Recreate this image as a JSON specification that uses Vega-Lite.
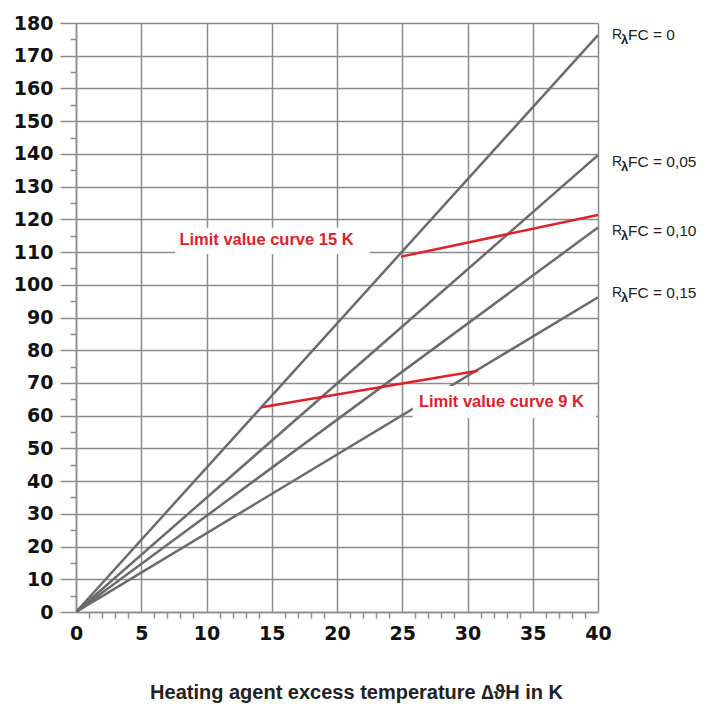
{
  "$schema": "https://vega.github.io/schema/vega-lite/v6.json",
  "autosize": "none",
  "width": 522,
  "height": 589,
  "padding": {"left": 76, "top": 23, "right": 111, "bottom": 97},
  "background": "white",
  "config": {"view": {"stroke": null}},
  "layer": [
    {
      "data": {"values": [
        {"x": 0, "y": 0, "s": "R0", "kind": "curve"},
        {"x": 40, "y": 176.3, "s": "R0", "kind": "curve"},
        {"x": 0, "y": 0, "s": "R005", "kind": "curve"},
        {"x": 40, "y": 139.6, "s": "R005", "kind": "curve"},
        {"x": 0, "y": 0, "s": "R010", "kind": "curve"},
        {"x": 40, "y": 117.5, "s": "R010", "kind": "curve"},
        {"x": 0, "y": 0, "s": "R015", "kind": "curve"},
        {"x": 40, "y": 96.2, "s": "R015", "kind": "curve"},
        {"x": 24.9, "y": 108.6, "s": "L15", "kind": "limit"},
        {"x": 40, "y": 121.3, "s": "L15", "kind": "limit"},
        {"x": 14.2, "y": 62.6, "s": "L9", "kind": "limit"},
        {"x": 30.8, "y": 73.7, "s": "L9", "kind": "limit"}
      ]},
      "mark": {"type": "line", "strokeWidth": 2.5, "clip": true},
      "encoding": {
        "x": {
          "field": "x", "type": "quantitative",
          "scale": {"domain": [0, 40], "nice": false},
          "axis": {
            "values": [0,1,2,3,4,5,6,7,8,9,10,11,12,13,14,15,16,17,18,19,20,21,22,23,24,25,26,27,28,29,30,31,32,33,34,35,36,37,38,39,40],
            "tickCount": 500,
            "format": "d",
            "labelOverlap": false,
            "labelExpr": "datum.value % 5 === 0 ? datum.label : ''",
            "grid": true,
            "gridColor": "#8c8c8c",
            "gridWidth": 1.5,
            "gridOpacity": {"condition": {"test": "datum.value % 5 === 0", "value": 1}, "value": 0},
            "tickSize": {"condition": {"test": "datum.value % 5 === 0", "value": 0}, "value": 6},
            "tickColor": "#8c8c8c",
            "tickWidth": 1.5,
            "domainColor": "#8c8c8c",
            "domainWidth": 1.5,
            "labelFont": "DejaVu Sans",
            "labelFontWeight": "bold",
            "labelFontSize": 19,
            "labelColor": "#111111",
            "labelPadding": 12,
            "labelFlush": false,
            "title": "Heating agent excess temperature ∆ϑH in K",
            "titleFont": "Liberation Sans",
            "titleFontWeight": "bold",
            "titleFontSize": 20,
            "titleColor": "#222222",
            "titleX": 280,
            "titleY": 80,
            "titleBaseline": "middle"
          }
        },
        "y": {
          "field": "y", "type": "quantitative",
          "scale": {"domain": [0, 180], "nice": false},
          "axis": {
            "values": [0,5,10,15,20,25,30,35,40,45,50,55,60,65,70,75,80,85,90,95,100,105,110,115,120,125,130,135,140,145,150,155,160,165,170,175,180],
            "tickCount": 500,
            "format": "d",
            "labelOverlap": false,
            "labelExpr": "datum.value % 10 === 0 ? datum.label : ''",
            "grid": true,
            "gridColor": "#8c8c8c",
            "gridWidth": 1.5,
            "gridOpacity": {"condition": {"test": "datum.value % 10 === 0", "value": 1}, "value": 0},
            "tickSize": {"condition": {"test": "datum.value % 10 === 0", "value": 16}, "value": 6},
            "tickColor": "#8c8c8c",
            "tickWidth": 1.5,
            "domainColor": "#8c8c8c",
            "domainWidth": 1.5,
            "labelFont": "DejaVu Sans",
            "labelFontWeight": "bold",
            "labelFontSize": 19,
            "labelColor": "#111111",
            "labelPadding": 7,
            "labelFlush": false,
            "title": null
          }
        },
        "detail": {"field": "s"},
        "color": {
          "field": "kind", "type": "nominal",
          "scale": {"domain": ["curve", "limit"], "range": ["#6b6b6b", "#e2202a"]},
          "legend": null
        }
      }
    },
    {
      "data": {"values": [
        {"x": 7.6, "x2": 22.5, "y": 109.4, "y2": 117.4},
        {"x": 25.8, "x2": 39.85, "y": 59.3, "y2": 69.1}
      ]},
      "mark": {"type": "rect", "fill": "white"},
      "encoding": {
        "x": {"field": "x", "type": "quantitative"},
        "x2": {"field": "x2"},
        "y": {"field": "y", "type": "quantitative"},
        "y2": {"field": "y2"}
      }
    },
    {
      "data": {"values": [
        {"x": 14.6, "y": 113.6, "t": "Limit value curve 15 K"},
        {"x": 32.6, "y": 64.2, "t": "Limit value curve 9 K"}
      ]},
      "mark": {"type": "text", "font": "Liberation Sans", "fontWeight": "bold", "fontSize": 16.5, "fill": "#e2202a", "align": "center", "baseline": "middle"},
      "encoding": {
        "x": {"field": "x", "type": "quantitative"},
        "y": {"field": "y", "type": "quantitative"},
        "text": {"field": "t"}
      }
    },
    {
      "data": {"values": [
        {"x": 40, "y": 176.3, "v": "FC = 0"},
        {"x": 40, "y": 137.5, "v": "FC = 0,05"},
        {"x": 40, "y": 116.4, "v": "FC = 0,10"},
        {"x": 40, "y": 97.5, "v": "FC = 0,15"}
      ]},
      "layer": [
        {
          "mark": {"type": "text", "font": "Liberation Sans", "fontSize": 14, "fill": "#222222", "align": "left", "baseline": "middle", "dx": 14, "text": "R"},
          "encoding": {
            "x": {"field": "x", "type": "quantitative"},
            "y": {"field": "y", "type": "quantitative"}
          }
        },
        {
          "mark": {"type": "text", "font": "Liberation Sans", "fontWeight": "bold", "fontSize": 13, "fill": "#222222", "align": "left", "baseline": "middle", "dx": 23, "dy": 5, "text": "λ"},
          "encoding": {
            "x": {"field": "x", "type": "quantitative"},
            "y": {"field": "y", "type": "quantitative"}
          }
        },
        {
          "mark": {"type": "text", "font": "Liberation Sans", "fontSize": 15.5, "fill": "#222222", "align": "left", "baseline": "middle", "dx": 30},
          "encoding": {
            "x": {"field": "x", "type": "quantitative"},
            "y": {"field": "y", "type": "quantitative"},
            "text": {"field": "v"}
          }
        }
      ]
    }
  ]
}
